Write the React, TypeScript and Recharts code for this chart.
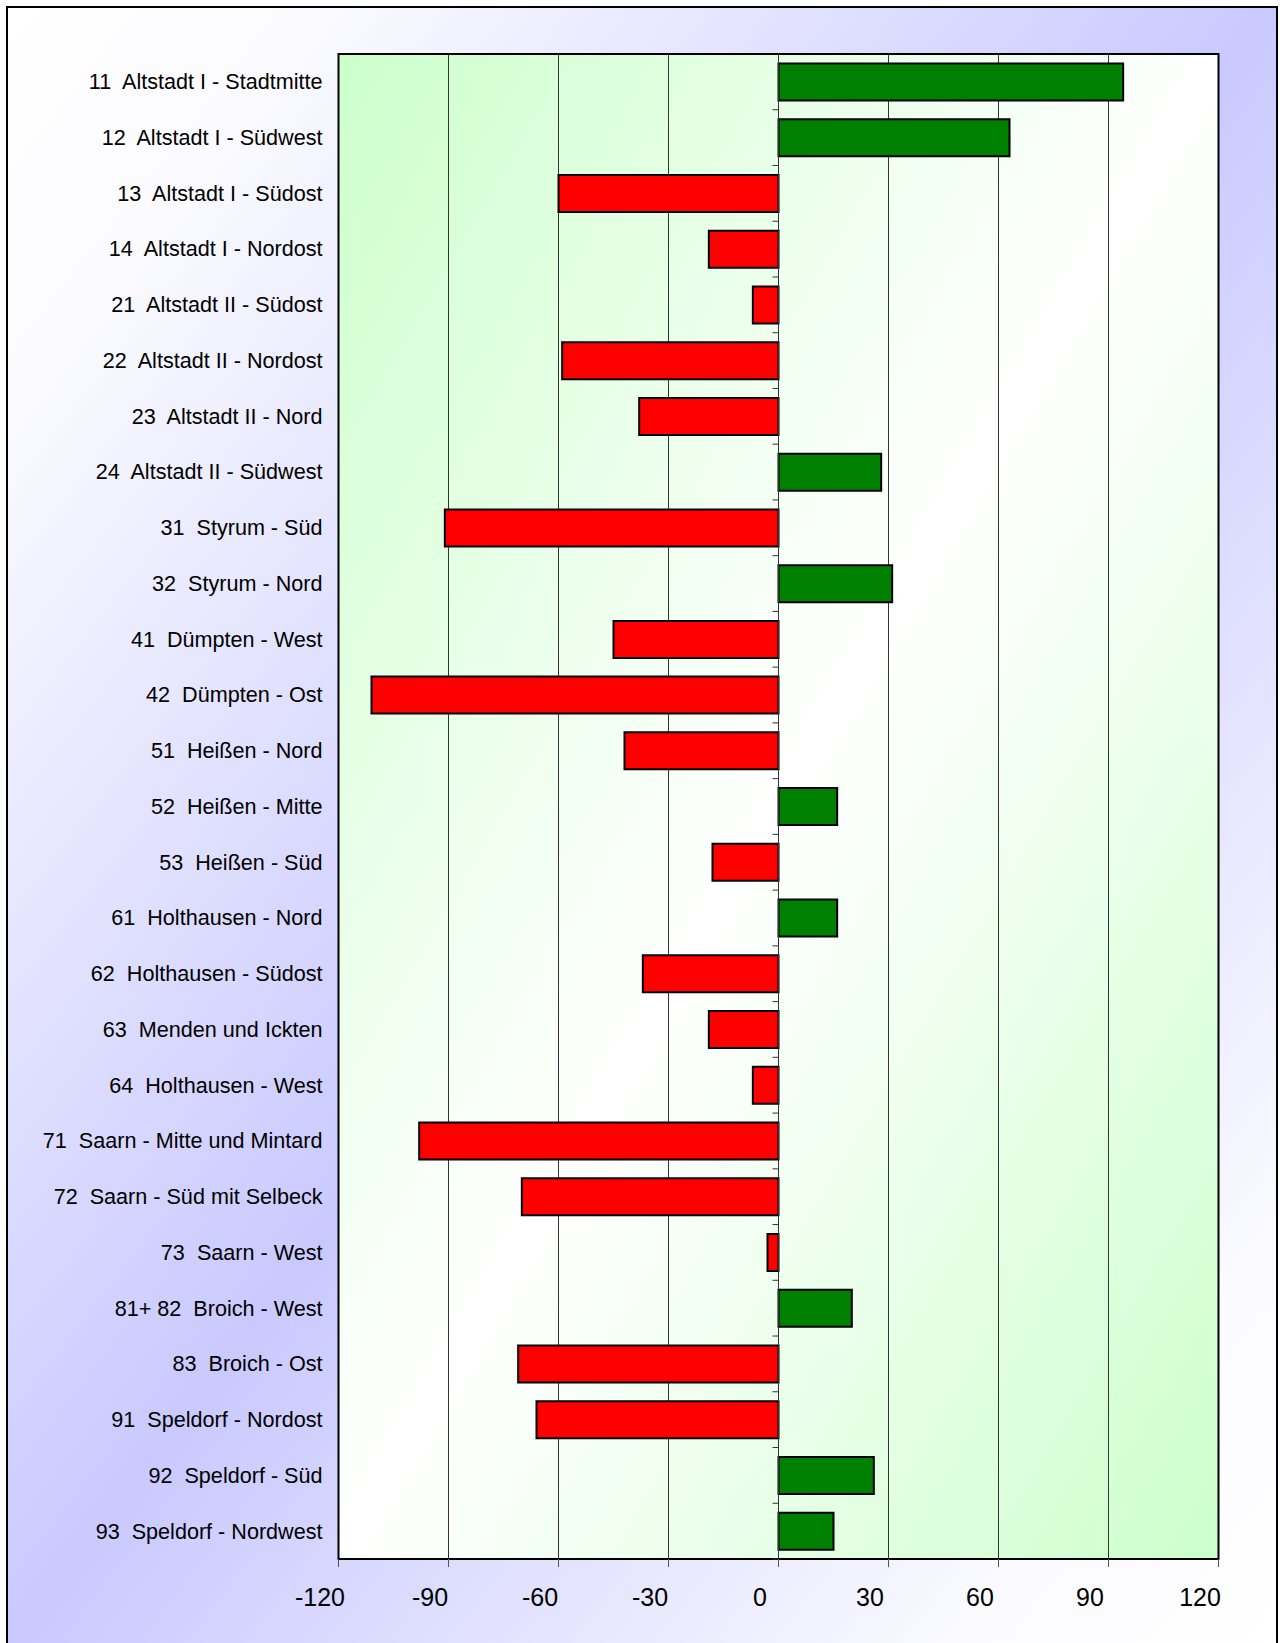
import React from "react";
import {
  BarChart,
  Bar,
  XAxis,
  YAxis,
  CartesianGrid,
  ReferenceLine,
  ReferenceArea,
  Cell,
} from "recharts";

// ---- data ----
const districts: string[] = [
  "11  Altstadt I - Stadtmitte",
  "12  Altstadt I - Südwest",
  "13  Altstadt I - Südost",
  "14  Altstadt I - Nordost",
  "21  Altstadt II - Südost",
  "22  Altstadt II - Nordost",
  "23  Altstadt II - Nord",
  "24  Altstadt II - Südwest",
  "31  Styrum - Süd",
  "32  Styrum - Nord",
  "41  Dümpten - West",
  "42  Dümpten - Ost",
  "51  Heißen - Nord",
  "52  Heißen - Mitte",
  "53  Heißen - Süd",
  "61  Holthausen - Nord",
  "62  Holthausen - Südost",
  "63  Menden und Ickten",
  "64  Holthausen - West",
  "71  Saarn - Mitte und Mintard",
  "72  Saarn - Süd mit Selbeck",
  "73  Saarn - West",
  "81+ 82  Broich - West",
  "83  Broich - Ost",
  "91  Speldorf - Nordost",
  "92  Speldorf - Süd",
  "93  Speldorf - Nordwest",
];

const changes: number[] = [
  94, 63, -60, -19, -7, -59, -38, 28, -91, 31, -45, -111, -42, 16, -18, 16,
  -37, -19, -7, -98, -70, -3, 20, -71, -66, 26, 15,
];

const xTicks: number[] = [-120, -90, -60, -30, 0, 30, 60, 90, 120];

const data = districts.map((name, i) => ({ name, value: changes[i] }));

// ---- layout ----
const X_MIN = -120;
const X_MAX = 120;
const CHART_W = 1284;
const CHART_H = 1643;
const PLOT_LEFT = 338.5;
const PLOT_TOP = 54;
const PLOT_W = 880;
const PLOT_H = 1505;
const XAXIS_H = 60;
const BAND = PLOT_H / districts.length;
const ZERO_X = PLOT_LEFT + (PLOT_W * (0 - X_MIN)) / (X_MAX - X_MIN);
const FONT = "Arial, 'Liberation Sans', Helvetica, sans-serif";

const POS_COLOR = "#008000";
const NEG_COLOR = "#ff0000";

const YTick = (props: any) => {
  const { x, y, payload } = props;
  return (
    <g>
      <text
        x={x - 8}
        y={y + 7.4}
        textAnchor="end"
        fontFamily={FONT}
        fontSize={21.6}
        fill="#000"
        style={{ whiteSpace: "pre" }}
      >
        {payload.value}
      </text>
      <line
        x1={ZERO_X - 6}
        x2={ZERO_X}
        y1={y + BAND / 2}
        y2={y + BAND / 2}
        stroke="#333"
        strokeWidth={1}
      />
    </g>
  );
};

const XTick = (props: any) => {
  const { x, y, payload } = props;
  return (
    <text
      x={x - 18.5}
      y={y + 37}
      textAnchor="middle"
      fontFamily={FONT}
      fontSize={25}
      fill="#000"
    >
      {payload.value}
    </text>
  );
};

export default function App() {
  return (
    <div
      style={{
        position: "absolute",
        left: 0,
        top: 0,
        width: CHART_W,
        height: CHART_H,
        overflow: "hidden",
      }}
    >
      <div
        style={{
          position: "absolute",
          left: 6,
          top: 6,
          width: 1268,
          height: CHART_H - 6,
          borderLeft: "2px solid #000",
          borderTop: "2px solid #000",
          borderRight: "2px solid #000",
          background:
            "linear-gradient(to bottom right, #ffffff 0%, #fbfbff 12%, #c9c9ff 50%, #fbfbff 88%, #ffffff 100%)",
        }}
      />
      <div style={{ position: "absolute", left: 0, top: 0 }}>
        <BarChart
          width={CHART_W}
          height={CHART_H}
          data={data}
          layout="vertical"
          barCategoryGap="17%"
          margin={{
            top: PLOT_TOP,
            right: CHART_W - PLOT_LEFT - PLOT_W,
            bottom: CHART_H - PLOT_TOP - PLOT_H - XAXIS_H,
            left: 0,
          }}
        >
          <defs>
            <linearGradient id="plotGrad" x1="0" y1="0" x2="1" y2="1">
              <stop offset="0%" stopColor="#ccffcc" />
              <stop offset="50%" stopColor="#ffffff" />
              <stop offset="100%" stopColor="#ccffcc" />
            </linearGradient>
          </defs>
          <CartesianGrid
            horizontal={false}
            vertical={true}
            stroke="#333"
            strokeWidth={1}
            fill="url(#plotGrad)"
            fillOpacity={1}
          />
          <XAxis
            type="number"
            domain={[X_MIN, X_MAX]}
            ticks={xTicks}
            interval={0}
            height={XAXIS_H}
            tickSize={8}
            axisLine={{ stroke: "#000", strokeWidth: 2 }}
            tickLine={{ stroke: "#555", strokeWidth: 1 }}
            tick={<XTick />}
            allowDataOverflow
          />
          <YAxis
            type="category"
            dataKey="name"
            width={PLOT_LEFT}
            interval={0}
            axisLine={false}
            tickLine={false}
            tick={<YTick />}
          />
          <ReferenceLine x={0} stroke="#333" strokeWidth={1} />
          <Bar
            dataKey="value"
            stroke="#000"
            strokeWidth={2}
            isAnimationActive={false}
          >
            {data.map((d, i) => (
              <Cell key={i} fill={d.value >= 0 ? POS_COLOR : NEG_COLOR} />
            ))}
          </Bar>
          <ReferenceArea
            x1={X_MIN}
            x2={X_MAX}
            fill="none"
            fillOpacity={0}
            stroke="#000"
            strokeWidth={2}
          />
        </BarChart>
      </div>
    </div>
  );
}
